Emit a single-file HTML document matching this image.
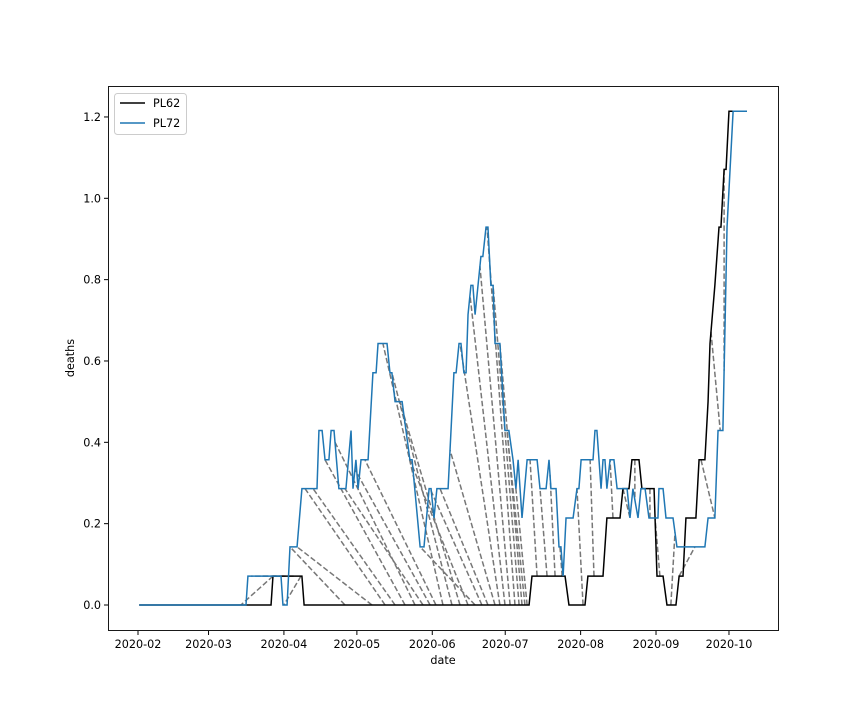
<!DOCTYPE html>
<html><head><meta charset="utf-8"><style>
body{margin:0;background:#fff;}
svg text{font-family:"DejaVu Sans","Liberation Sans",sans-serif;font-size:11.2px;fill:#000;}
</style></head><body>
<svg id="chart" width="864" height="720" xmlns="http://www.w3.org/2000/svg">
<rect x="0" y="0" width="864" height="720" fill="#fff"/>
<g id="plot"></g>
<rect x="108.5" y="86.5" width="670" height="544" fill="none" stroke="#000" stroke-width="0.9"/>
<g id="axes"></g>
<text x="443" y="664" text-anchor="middle">date</text>
<text x="74" y="358" text-anchor="middle" transform="rotate(-90 74 358)">deaths</text>
<g>
<rect x="114.5" y="93.5" width="72" height="41" rx="3" fill="#fff" stroke="#ccc"/>
<line x1="120" y1="103" x2="145" y2="103" stroke="#000" stroke-width="1.5"/>
<text x="153" y="107">PL62</text>
<line x1="120" y1="123" x2="145" y2="123" stroke="#1f77b4" stroke-width="1.5"/>
<text x="153" y="127">PL72</text>
</g>
</svg>
<script>
// days since 2020-02-01, values in deaths
const pl62Days=[0.5,54.7,55.5,67.4,68.3,160.8,162,175.6,177.2,183.8,185,191.2,192.8,198.2,199.4,201.9,203.1,206,207.2,212.2,213.4,215.9,217.5,221.2,222.5,224.1,225.3,229.4,230.7,233.1,234.4,235.2,237.2,238.9,239.7,241,241.8,243,250.4];
const pl62Vals=[0,0,0.071,0.071,0,0,0.071,0.071,0,0,0.071,0.071,0.214,0.214,0.286,0.286,0.357,0.357,0.286,0.286,0.071,0.071,0,0,0.071,0.071,0.214,0.214,0.357,0.357,0.5,0.643,0.786,0.929,0.929,1.071,1.071,1.214,1.214];
const pl72Days=[0.5,44.4,45.2,58.8,59.6,61.3,62.5,65.4,67.4,73.6,74.4,75.7,76.9,78.5,79.4,80.6,82.6,85.5,87.6,88.4,89.6,90.5,91.7,94.6,96.6,97.9,98.7,102.4,103.6,104.4,105.7,108.6,111.8,112.7,116,117.6,119.7,120.5,121.7,122.9,127.5,129.9,130.8,132,132.8,134,134.9,135.7,136.9,137.7,138.6,141,141.8,143.1,143.9,145.1,146,146.8,148.8,150.9,152.5,154.2,155.4,156.3,157.9,160,164.1,165.3,167.8,169,169.8,171.9,173.1,173.9,174.8,176,178.9,180.5,181.3,182.2,187.1,187.9,188.7,190.4,191.2,192,192.8,194.1,195.7,197,201.1,202.3,203.5,205.6,206.8,208.5,210.1,213.8,214.2,215.9,217.1,220,221.6,233.1,234.4,237.2,238.5,240.5,242.2,244.7,250.4];
const pl72Vals=[0,0,0.071,0.071,0,0,0.143,0.143,0.286,0.286,0.429,0.429,0.357,0.357,0.429,0.429,0.286,0.286,0.429,0.286,0.357,0.286,0.357,0.357,0.571,0.571,0.643,0.643,0.571,0.571,0.5,0.5,0.357,0.357,0.143,0.143,0.286,0.286,0.214,0.286,0.286,0.571,0.571,0.643,0.643,0.571,0.571,0.714,0.786,0.786,0.714,0.857,0.857,0.929,0.929,0.786,0.786,0.643,0.643,0.429,0.429,0.357,0.286,0.357,0.214,0.357,0.357,0.286,0.286,0.357,0.286,0.286,0.143,0.143,0.071,0.214,0.214,0.286,0.286,0.357,0.357,0.429,0.429,0.286,0.357,0.357,0.286,0.357,0.357,0.286,0.286,0.214,0.286,0.214,0.286,0.286,0.214,0.214,0.286,0.286,0.214,0.214,0.143,0.143,0.214,0.214,0.429,0.429,0.929,1.214,1.214];
// DTW alignment pairs: day in PL62 -> day in PL72
const linkDays62=[55.5,57,60,64,67,85.1,96.2,101.6,105.7,109.8,113.9,117.2,120.1,122.5,125.4,129.1,132.4,135.7,138.6,141.4,143.9,146.8,148.8,150.9,153,155,156.7,157.9,159.1,160,164.1,168.2,171.5,174.4,183,187.5,195.3,199.4,204.3,210.5,214.6,219.1,222.5,231.5,235.6,241];
const linkDays72=[42.3,46.5,51,55.5,60,62.5,65.4,68.7,72,76.9,81,85.1,89.2,93.3,100.7,104.4,107.7,111.8,116,120.1,124.2,128.3,132.4,136.5,140.6,143.5,146,148.8,151.7,155,161.2,165.3,169.4,173.5,180.5,185.9,194.1,202.3,204.3,210.5,212.6,220.8,229,237.2,239.4,241];
const yTicks=[0,0.2,0.4,0.6,0.8,1.0,1.2];
const yTickLabels=["0.0","0.2","0.4","0.6","0.8","1.0","1.2"];
const xTickDays=[0,29,60,90,121,151,182,213,243];
const xTickLabels=["2020-02","2020-03","2020-04","2020-05","2020-06","2020-07","2020-08","2020-09","2020-10"];

const NS="http://www.w3.org/2000/svg";
const X=d=>138+d*2.432;
const Y=v=>605-v*406.7;
function valAt(days,vals,d){
  if(d<=days[0])return vals[0];
  for(let i=1;i<days.length;i++){if(d<=days[i]){const t=(d-days[i-1])/(days[i]-days[i-1]);return vals[i-1]+t*(vals[i]-vals[i-1]);}}
  return vals[vals.length-1];
}
const plot=document.getElementById('plot');
const axes=document.getElementById('axes');
for(let i=0;i<linkDays62.length;i++){
  const l=document.createElementNS(NS,'line');
  
  
  l.setAttribute('x1',X(linkDays62[i]));l.setAttribute('y1',Y(valAt(pl62Days,pl62Vals,linkDays62[i])));
  l.setAttribute('x2',X(linkDays72[i]));l.setAttribute('y2',Y(valAt(pl72Days,pl72Vals,linkDays72[i])));
  l.setAttribute('stroke','#777');l.setAttribute('stroke-width','1.5');l.setAttribute('stroke-dasharray','5.5,2.5');
  plot.appendChild(l);
}
function series(days,vals,color,name){
  const p=document.createElementNS(NS,'polyline');
  
  
  p.setAttribute('points',days.map((d,i)=>X(d)+','+Y(vals[i])).join(' '));
  p.setAttribute('fill','none');p.setAttribute('stroke',color);p.setAttribute('stroke-width','1.5');
  plot.appendChild(p);
}
series(pl62Days,pl62Vals,'#000','pl62-line');
series(pl72Days,pl72Vals,'#1f77b4','pl72-line');
yTicks.forEach((v,i)=>{
  const t=document.createElementNS(NS,'line');
  
  
  t.setAttribute('x1',104);t.setAttribute('x2',108);t.setAttribute('y1',Y(v));t.setAttribute('y2',Y(v));t.setAttribute('stroke','#000');
  axes.appendChild(t);
  const tx=document.createElementNS(NS,'text');
  
  
  tx.setAttribute('x',101);tx.setAttribute('y',Y(v)+4);tx.setAttribute('text-anchor','end');tx.textContent=yTickLabels[i];
  axes.appendChild(tx);
});
xTickDays.forEach((d,i)=>{
  const t=document.createElementNS(NS,'line');
  
  
  t.setAttribute('x1',X(d));t.setAttribute('x2',X(d));t.setAttribute('y1',631);t.setAttribute('y2',635);t.setAttribute('stroke','#000');
  axes.appendChild(t);
  const tx=document.createElementNS(NS,'text');
  
  
  tx.setAttribute('x',X(d));tx.setAttribute('y',648);tx.setAttribute('text-anchor','middle');tx.textContent=xTickLabels[i];
  axes.appendChild(tx);
});
</script>
</body></html>
